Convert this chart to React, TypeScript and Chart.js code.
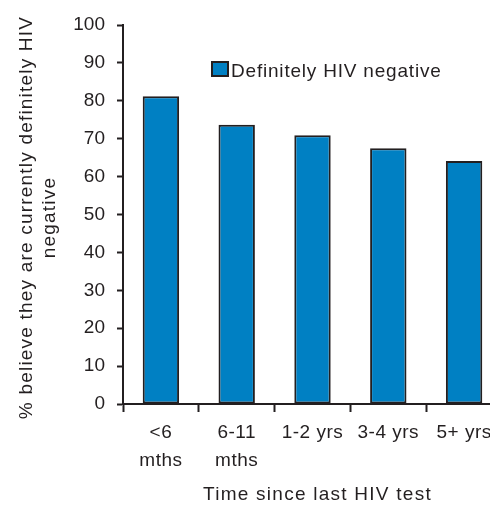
import React, { useEffect, useRef } from "react";
import { Chart, registerables } from "chart.js";

Chart.register(...registerables);

const categories: string[][] = [["<6", "mths"], ["6-11", "mths"], ["1-2 yrs"], ["3-4 yrs"], ["5+ yrs"]];
const seriesLabel = "Definitely HIV negative";
const values: number[] = [81.2, 73.7, 70.9, 67.5, 64.1];
const yTickMin = 0;
const yTickMax = 100;
const yTickStep = 10;
const xTitle = "Time since last HIV test";
const yTitle = ["% believe they are currently definitely HIV", "negative"];

const INK = "#231f20";
const BAR = "#0080c3";
const FONT = "'Liberation Sans', Arial, sans-serif";

function spaced(scale: any, method: string, spacing: string, dx = 0, dy = 0) {
  if (scale["_sp_" + method]) return;
  const orig = scale[method].bind(scale);
  scale[method] = (...args: any[]) => {
    const ctx = scale.ctx;
    ctx.save();
    ctx.letterSpacing = spacing;
    ctx.translate(dx, dy);
    orig(...args);
    ctx.restore();
  };
  scale["_sp_" + method] = true;
}

const legendPlugin = {
  id: "insideLegend",
  afterDraw(chart: any) {
    const ctx = chart.ctx;
    const ds = chart.data.datasets[0];
    ctx.save();
    ctx.fillStyle = ds.backgroundColor;
    ctx.fillRect(212, 62, 16, 14);
    ctx.strokeStyle = INK;
    ctx.lineWidth = 2;
    ctx.strokeRect(212, 62, 16, 14);
    ctx.fillStyle = INK;
    ctx.font = `19px ${FONT}`;
    ctx.letterSpacing = "0.8px";
    ctx.textBaseline = "alphabetic";
    ctx.textAlign = "left";
    ctx.fillText(ds.label, 231, 76.5);
    ctx.restore();
  },
};

export default function App() {
  const ref = useRef<HTMLCanvasElement>(null);
  useEffect(() => {
    if (!ref.current) return;
    const chart = new Chart(ref.current, {
      type: "bar",
      data: {
        labels: categories,
        datasets: [
          {
            label: seriesLabel,
            data: values,
            backgroundColor: BAR,
            borderColor: INK,
            borderWidth: 2,
            borderSkipped: false,
            barPercentage: 0.48,
            categoryPercentage: 1,
          },
        ],
      },
      options: {
        animation: false,
        responsive: true,
        maintainAspectRatio: false,
        layout: { padding: { left: 0, right: 8, top: 25, bottom: 0 } },
        plugins: { legend: { display: false }, tooltip: { enabled: false } },
        scales: {
          x: {
            offset: true,
            grid: {
              offset: true,
              drawOnChartArea: false,
              drawTicks: true,
              tickLength: 8,
              tickWidth: 2,
              tickColor: INK,
            },
            border: { display: true, color: INK, width: 2 },
            ticks: {
              color: INK,
              font: { family: FONT, size: 19, lineHeight: 1.47 },
              padding: 7,
              maxRotation: 0,
              autoSkip: false,
            },
            title: {
              display: true,
              text: xTitle,
              color: INK,
              font: { family: FONT, size: 19, lineHeight: 1 },
              padding: { top: 0, bottom: 0.5 },
            },
            afterFit(scale: any) {
              scale.height = 101;
              spaced(scale, "drawTitle", "1.25px", 5, 0);
              spaced(scale, "drawLabels", "0.5px");
            },
          },
          y: {
            min: yTickMin,
            max: yTickMax,
            grid: {
              drawOnChartArea: false,
              drawTicks: true,
              tickLength: 6,
              tickWidth: 2,
              tickColor: INK,
            },
            border: { display: true, color: INK, width: 2 },
            ticks: {
              stepSize: yTickStep,
              color: INK,
              font: { family: FONT, size: 19 },
              padding: 12,
            },
            title: {
              display: true,
              text: yTitle,
              color: INK,
              font: { family: FONT, size: 19, lineHeight: 1.2 },
              padding: { top: 15.6, bottom: 0 },
            },
            afterFit(scale: any) {
              scale.width = 123;
              spaced(scale, "drawTitle", "1.2px", 0, 3);
            },
          },
        },
      },
      plugins: [legendPlugin],
    });
    return () => chart.destroy();
  }, []);

  return (
    <div style={{ position: "absolute", left: 0, top: 0, width: 490, height: 505, overflow: "hidden", background: "#fff" }}>
      <div style={{ position: "relative", width: 510, height: 505 }}>
        <canvas ref={ref} />
      </div>
    </div>
  );
}
